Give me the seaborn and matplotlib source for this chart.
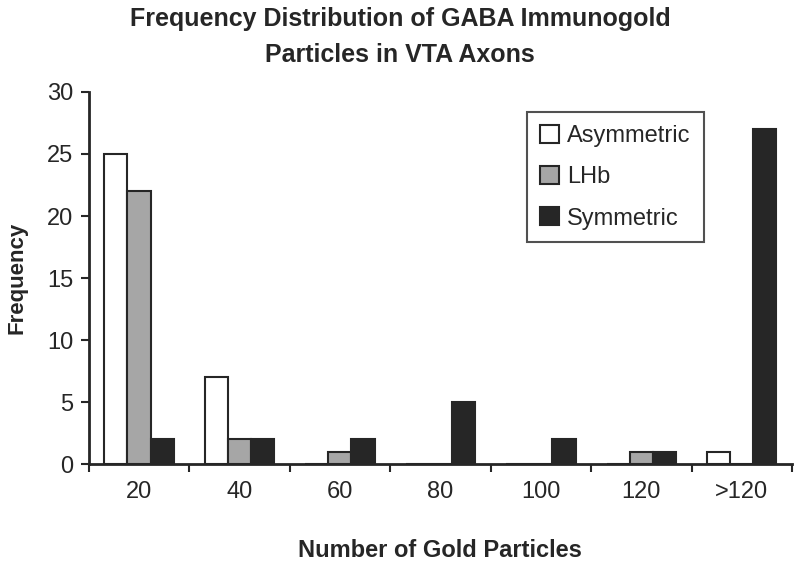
import pandas as pd
import seaborn as sns
import matplotlib.pyplot as plt

bins = ["20", "40", "60", "80", "100", "120", ">120"]
asymmetric = [25, 7, 0, 0, 0, 0, 1]
lhb = [22, 2, 1, 0, 0, 1, 0]
symmetric = [2, 2, 2, 5, 2, 1, 27]
groups = ["Asymmetric", "LHb", "Symmetric"]

rows = []
for name, vals in zip(groups, [asymmetric, lhb, symmetric]):
    for b, v in zip(bins, vals):
        rows.append({"bin": b, "group": name, "count": v})
df = pd.DataFrame(rows)

sns.set_style("ticks")
plt.rcParams['font.family'] = ['Liberation Sans', 'DejaVu Sans']
dark = "#262626"

fig = plt.figure(figsize=(8, 5.64), dpi=100)
ax = fig.add_axes([0.111, 0.177, 0.879, 0.66])
sns.barplot(data=df, x="bin", y="count", hue="group", order=bins, hue_order=groups,
            palette=["white", "#a6a6a6", dark], edgecolor=dark, linewidth=1.5,
            width=0.69, gap=0, ax=ax)

ax.set_ylim(0, 30)
ax.set_yticks([0, 5, 10, 15, 20, 25, 30])
ax.set_xlim(-0.5, len(bins) - 0.5)
ax.set_xticks(range(len(bins)))
ax.set_xticklabels(bins)
ax.set_xticks([i - 0.5 for i in range(len(bins) + 1)], minor=True)
ax.tick_params(axis="x", which="major", length=0, pad=12, labelsize=17, colors=dark)
ax.tick_params(axis="x", which="minor", length=6, width=1.5, color=dark)
ax.tick_params(axis="y", length=6, width=1.5, labelsize=17, color=dark, labelcolor=dark, pad=5)
for s in ["top", "right"]:
    ax.spines[s].set_visible(False)
for s in ["left", "bottom"]:
    ax.spines[s].set_linewidth(2)
    ax.spines[s].set_color(dark)

ax.set_xlabel("Number of Gold Particles", fontsize=17, fontweight="bold", color=dark, labelpad=26)
ax.set_ylabel("Frequency", fontsize=16, fontweight="bold", color=dark, labelpad=14)
fig.text(0.5, 0.934, "Frequency Distribution of GABA Immunogold\nParticles in VTA Axons",
         ha="center", va="center", fontsize=18, fontweight="bold", color=dark,
         linespacing=1.65)

leg = ax.legend(loc="upper left", bbox_to_anchor=(0.623, 0.946), fontsize=17, frameon=True,
                fancybox=False, edgecolor=dark, handlelength=0.8, handleheight=0.8,
                handletextpad=0.35, labelspacing=0.8, borderpad=0.55, borderaxespad=0)
leg.get_frame().set_linewidth(1.5)
leg.set_title(None)

fig.savefig("out.png", dpi=100)
